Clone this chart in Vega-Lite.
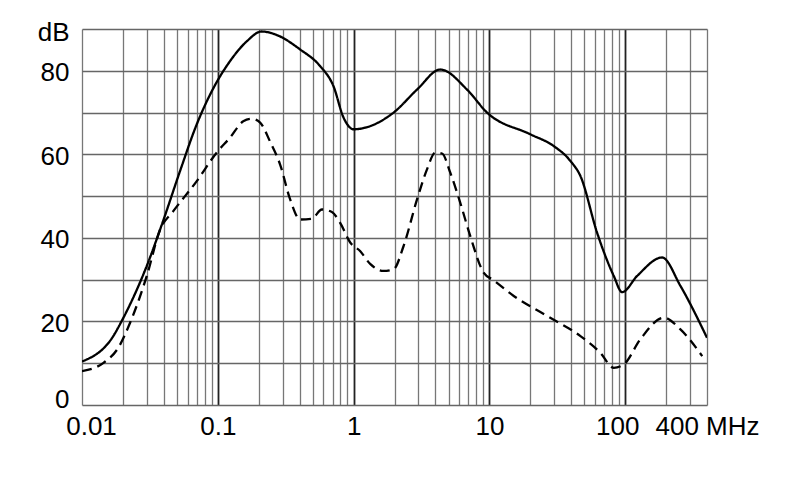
{
  "$schema": "https://vega.github.io/schema/vega-lite/v6.json",
  "width": 625,
  "height": 376,
  "autosize": {"type": "none"},
  "padding": {"left": 82, "top": 29, "right": 83, "bottom": 94},
  "background": "white",
  "config": {"view": {"stroke": null}, "font": "Liberation Sans"},
  "data": {
    "values": [
      {"f": 0.01, "db": 10.4, "s": "solid"},
      {"f": 0.017, "db": 16.5, "s": "solid"},
      {"f": 0.0196, "db": 20.1, "s": "solid"},
      {"f": 0.03, "db": 33.3, "s": "solid"},
      {"f": 0.0397, "db": 44.2, "s": "solid"},
      {"f": 0.0527, "db": 56.0, "s": "solid"},
      {"f": 0.07, "db": 67.2, "s": "solid"},
      {"f": 0.093, "db": 75.9, "s": "solid"},
      {"f": 0.123, "db": 82.3, "s": "solid"},
      {"f": 0.164, "db": 87.1, "s": "solid"},
      {"f": 0.21, "db": 89.4, "s": "solid"},
      {"f": 0.27, "db": 88.6, "s": "solid"},
      {"f": 0.404, "db": 85.1, "s": "solid"},
      {"f": 0.567, "db": 81.1, "s": "solid"},
      {"f": 0.711, "db": 76.3, "s": "solid"},
      {"f": 0.843, "db": 68.8, "s": "solid"},
      {"f": 1.0, "db": 66.0, "s": "solid"},
      {"f": 1.97, "db": 70.0, "s": "solid"},
      {"f": 2.93, "db": 75.5, "s": "solid"},
      {"f": 4.35, "db": 80.3, "s": "solid"},
      {"f": 6.84, "db": 75.5, "s": "solid"},
      {"f": 9.6, "db": 70.0, "s": "solid"},
      {"f": 20.0, "db": 64.8, "s": "solid"},
      {"f": 29.7, "db": 62.0, "s": "solid"},
      {"f": 39.5, "db": 58.4, "s": "solid"},
      {"f": 46.8, "db": 54.8, "s": "solid"},
      {"f": 62.1, "db": 41.2, "s": "solid"},
      {"f": 82.3, "db": 30.9, "s": "solid"},
      {"f": 94.9, "db": 27.0, "s": "solid"},
      {"f": 122.4, "db": 30.9, "s": "solid"},
      {"f": 187, "db": 35.3, "s": "solid"},
      {"f": 255, "db": 28.5, "s": "solid"},
      {"f": 400, "db": 16.1, "s": "solid"},
      {"f": 0.01, "db": 8.1, "s": "dashed"},
      {"f": 0.0144, "db": 10.1, "s": "dashed"},
      {"f": 0.0185, "db": 13.7, "s": "dashed"},
      {"f": 0.0226, "db": 19.7, "s": "dashed"},
      {"f": 0.03, "db": 30.9, "s": "dashed"},
      {"f": 0.0376, "db": 42.0, "s": "dashed"},
      {"f": 0.047, "db": 46.4, "s": "dashed"},
      {"f": 0.07, "db": 53.6, "s": "dashed"},
      {"f": 0.098, "db": 60.4, "s": "dashed"},
      {"f": 0.123, "db": 64.0, "s": "dashed"},
      {"f": 0.154, "db": 67.9, "s": "dashed"},
      {"f": 0.178, "db": 68.5, "s": "dashed"},
      {"f": 0.205, "db": 67.6, "s": "dashed"},
      {"f": 0.243, "db": 63.0, "s": "dashed"},
      {"f": 0.288, "db": 57.5, "s": "dashed"},
      {"f": 0.341, "db": 49.2, "s": "dashed"},
      {"f": 0.404, "db": 44.4, "s": "dashed"},
      {"f": 0.493, "db": 44.6, "s": "dashed"},
      {"f": 0.584, "db": 46.8, "s": "dashed"},
      {"f": 0.692, "db": 46.2, "s": "dashed"},
      {"f": 0.796, "db": 43.6, "s": "dashed"},
      {"f": 0.944, "db": 38.9, "s": "dashed"},
      {"f": 1.12, "db": 36.8, "s": "dashed"},
      {"f": 1.33, "db": 33.7, "s": "dashed"},
      {"f": 1.66, "db": 32.1, "s": "dashed"},
      {"f": 1.97, "db": 32.5, "s": "dashed"},
      {"f": 2.33, "db": 38.0, "s": "dashed"},
      {"f": 2.93, "db": 49.2, "s": "dashed"},
      {"f": 3.47, "db": 56.4, "s": "dashed"},
      {"f": 3.99, "db": 60.4, "s": "dashed"},
      {"f": 4.48, "db": 60.2, "s": "dashed"},
      {"f": 5.15, "db": 55.6, "s": "dashed"},
      {"f": 6.1, "db": 48.4, "s": "dashed"},
      {"f": 7.23, "db": 40.4, "s": "dashed"},
      {"f": 9.06, "db": 31.7, "s": "dashed"},
      {"f": 10.7, "db": 29.9, "s": "dashed"},
      {"f": 15.1, "db": 26.1, "s": "dashed"},
      {"f": 26.6, "db": 21.3, "s": "dashed"},
      {"f": 46.8, "db": 16.5, "s": "dashed"},
      {"f": 65.6, "db": 12.5, "s": "dashed"},
      {"f": 82.3, "db": 8.9, "s": "dashed"},
      {"f": 97.5, "db": 9.7, "s": "dashed"},
      {"f": 129, "db": 15.7, "s": "dashed"},
      {"f": 192, "db": 20.9, "s": "dashed"},
      {"f": 255, "db": 18.1, "s": "dashed"},
      {"f": 369, "db": 11.7, "s": "dashed"}
    ]
  },
  "mark": {"type": "line", "interpolate": "monotone", "strokeWidth": 2.3, "clip": true},
  "encoding": {
    "x": {
      "field": "f",
      "type": "quantitative",
      "scale": {"type": "log", "domain": [0.01, 400], "nice": false},
      "axis": {
        "title": null,
        "values": [0.01,0.02,0.03,0.04,0.05,0.06,0.07,0.08,0.09,0.1,0.2,0.3,0.4,0.5,0.6,0.7,0.8,0.9,1,2,3,4,5,6,7,8,9,10,20,30,40,50,60,70,80,90,100,200,300,400],
        "labelExpr": "datum.value==0.01?'0.01':datum.value==0.1?'0.1':datum.value==1?'1':datum.value==10?'10':datum.value==100?'100':datum.value==400?'400 MHz':''",
        "labelOverlap": false,
        "labelFlush": false,
        "labelFontSize": 26,
        "labelColor": "#000",
        "labelPadding": 8,
        "labelOffset": {"condition": [{"test": "datum.value==0.01", "value": 9}, {"test": "datum.value==100", "value": -8}], "value": 0},
        "ticks": false,
        "domain": false,
        "grid": true,
        "gridColor": {"condition": {"test": "datum.value==0.1||datum.value==1||datum.value==10||datum.value==100", "value": "#222"}, "value": "#777"},
        "gridWidth": {"condition": {"test": "datum.value==0.1||datum.value==1||datum.value==10||datum.value==100", "value": 1.8}, "value": 1.3},
        "gridOpacity": 1
      }
    },
    "y": {
      "field": "db",
      "type": "quantitative",
      "scale": {"domain": [0, 90], "nice": false},
      "axis": {
        "title": null,
        "values": [0,10,20,30,40,50,60,70,80,90],
        "labelExpr": "datum.value==90?'dB':(datum.value%20==0?datum.label:'')",
        "labelFontSize": 26,
        "labelColor": "#000",
        "labelPadding": 13,
        "labelBaseline": {"condition": {"test": "datum.value==0", "value": "alphabetic"}, "value": "middle"},
        "labelOffset": {"condition": {"test": "datum.value==90", "value": 3}, "value": 2},
        "ticks": false,
        "domain": false,
        "grid": true,
        "gridColor": "#666",
        "gridWidth": 1.4,
        "gridOpacity": 1
      }
    },
    "color": {"field": "s", "type": "nominal", "scale": {"domain": ["solid", "dashed"], "range": ["#000", "#000"]}, "legend": null},
    "strokeDash": {"field": "s", "type": "nominal", "scale": {"domain": ["solid", "dashed"], "range": [[1, 0], [10, 6]]}, "legend": null}
  }
}
